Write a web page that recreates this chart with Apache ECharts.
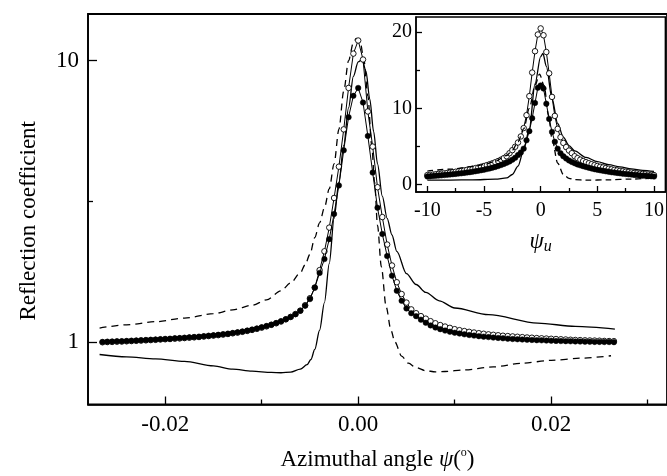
<!DOCTYPE html>
<html><head><meta charset="utf-8">
<script src="https://cdn.jsdelivr.net/npm/echarts@6/dist/echarts.min.js"></script>
<style>html,body{margin:0;padding:0;background:#fff}#c{width:667px;height:476px}</style>
</head><body><div id="c"></div>
<script>
// ---------- main chart data (azimuthal angle in degrees, reflection coefficient) ----------
const mainAngle = [-0.0265,-0.026,-0.0255,-0.025,-0.0245,-0.024,-0.0235,-0.023,-0.0225,-0.022,-0.0215,-0.021,-0.0205,-0.02,-0.0195,-0.019,-0.0185,-0.018,-0.0175,-0.017,-0.0165,-0.016,-0.0155,-0.015,-0.0145,-0.014,-0.0135,-0.013,-0.0125,-0.012,-0.0115,-0.011,-0.0105,-0.01,-0.0095,-0.009,-0.0085,-0.008,-0.0075,-0.007,-0.0065,-0.006,-0.0055,-0.005,-0.0045,-0.004,-0.0035,-0.003,-0.0025,-0.002,-0.0015,-0.001,-0.0005,0,0.0005,0.001,0.0015,0.002,0.0025,0.003,0.0035,0.004,0.0045,0.005,0.0055,0.006,0.0065,0.007,0.0075,0.008,0.0085,0.009,0.0095,0.01,0.0105,0.011,0.0115,0.012,0.0125,0.013,0.0135,0.014,0.0145,0.015,0.0155,0.016,0.0165,0.017,0.0175,0.018,0.0185,0.019,0.0195,0.02,0.0205,0.021,0.0215,0.022,0.0225,0.023,0.0235,0.024,0.0245,0.025,0.0255,0.026,0.0265];
const mainOpen = [0.997,0.999,1.000,1.002,1.003,1.005,1.007,1.009,1.011,1.013,1.015,1.017,1.020,1.022,1.024,1.027,1.029,1.032,1.035,1.038,1.041,1.045,1.049,1.053,1.057,1.062,1.067,1.073,1.079,1.086,1.094,1.103,1.113,1.124,1.136,1.150,1.165,1.182,1.203,1.227,1.256,1.292,1.35,1.43,1.56,1.80,2.10,2.55,3.25,4.2,5.7,8.0,10.6,
  11.8,
  10.1,6.6,4.95,3.55,2.78,2.22,1.87,1.63,1.48,1.38,1.305,1.265,1.235,1.21,1.185,1.165,1.148,1.134,1.122,1.110,1.101,1.093,1.086,1.080,1.074,1.069,1.064,1.060,1.056,1.052,1.049,1.046,1.043,1.040,1.037,1.035,1.032,1.030,1.028,1.026,1.024,1.022,1.020,1.018,1.016,1.015,1.013,1.012,1.011,1.010,1.008,1.007,1.006];
const mainFilled = [1.000,1.002,1.003,1.005,1.006,1.008,1.010,1.012,1.014,1.016,1.018,1.020,1.023,1.025,1.027,1.030,1.032,1.035,1.038,1.041,1.044,1.048,1.052,1.056,1.060,1.065,1.070,1.076,1.082,1.089,1.097,1.106,1.116,1.127,1.139,1.152,1.167,1.184,1.204,1.227,1.255,1.29,1.345,1.42,1.56,1.76,1.97,2.32,2.85,3.6,4.8,6.3,7.5,
  8.0,
  7.1,5.4,4.0,3.0,2.42,2.02,1.72,1.52,1.40,1.315,1.265,1.235,1.20,1.17,1.145,1.125,1.11,1.097,1.087,1.078,1.071,1.064,1.058,1.053,1.048,1.044,1.040,1.036,1.033,1.030,1.027,1.024,1.022,1.020,1.018,1.016,1.014,1.013,1.011,1.010,1.008,1.007,1.006,1.005,1.004,1.003,1.002,1.001,1.000,1.000,0.999,0.999,0.998];
const dashAngle = [-0.0268,-0.024,-0.021,-0.018,-0.015,-0.013,-0.011,-0.0095,-0.008,-0.007,-0.006,-0.0055,-0.005,-0.0045,-0.004,-0.0035,-0.003,-0.0025,-0.002,-0.0015,-0.001,-0.0005,-0.0002,0.0002,0.0006,0.001,0.0014,0.0017,0.002,0.0024,0.0029,0.0034,0.0038,0.0045,0.0052,0.006,0.007,0.008,0.009,0.011,0.014,0.017,0.02,0.023,0.0262];
const dashValue = [1.12,1.15,1.18,1.215,1.26,1.30,1.35,1.41,1.52,1.62,1.76,1.88,2.05,2.35,2.65,3.0,3.5,4.3,5.7,7.8,10.0,11.6,12.0,11.7,10.0,7.5,5.0,3.7,2.6,1.85,1.33,1.1,1.0,0.89,0.84,0.81,0.79,0.783,0.785,0.795,0.815,0.84,0.86,0.875,0.893];
const solidAngle = [-0.0268,-0.024,-0.021,-0.018,-0.015,-0.013,-0.011,-0.009,-0.008,-0.007,-0.006,-0.0053,-0.0049,-0.0045,-0.004,-0.0035,-0.003,-0.0025,-0.002,-0.0015,-0.001,-0.0005,0,0.0004,0.0008,0.0012,0.0016,0.002,0.0025,0.003,0.0035,0.004,0.005,0.006,0.007,0.0084,0.01,0.0135,0.0186,0.0225,0.0266];
const solidValue = [0.902,0.885,0.87,0.853,0.822,0.80,0.787,0.779,0.777,0.781,0.80,0.83,0.866,0.94,1.1,1.38,1.9,2.75,3.7,5.0,6.8,8.8,9.9,10.1,9.2,7.3,5.6,4.3,3.3,2.75,2.4,2.1,1.75,1.6,1.5,1.4,1.32,1.25,1.167,1.135,1.11];
const mainXTicks = [-0.02, 0, 0.02];
const mainXMinorTicks = [-0.01, 0.01, 0.03];
const mainXLabels = [-0.02, 0, 0.02];
const mainYTicks = [1, 10];
const mainYMinorTicks = [3.1623];
const mainYLabels = [1, 10];

// ---------- inset data (reduced angle psi_u) ----------
const insetAngle = [-10,-9.75,-9.5,-9.25,-9,-8.75,-8.5,-8.25,-8,-7.75,-7.5,-7.25,-7,-6.75,-6.5,-6.25,-6,-5.75,-5.5,-5.25,-5,-4.75,-4.5,-4.25,-4,-3.75,-3.5,-3.25,-3,-2.75,-2.5,-2.25,-2,-1.75,-1.5,-1.25,-1,-0.75,-0.5,-0.25,0,0.25,0.5,0.75,1,1.25,1.5,1.75,2,2.25,2.5,2.75,3,3.25,3.5,3.75,4,4.25,4.5,4.75,5,5.25,5.5,5.75,6,6.25,6.5,6.75,7,7.25,7.5,7.75,8,8.25,8.5,8.75,9,9.25,9.5,9.75,10];
const insetOpen = [1.22,1.26,1.29,1.33,1.37,1.41,1.45,1.5,1.55,1.6,1.66,1.72,1.78,1.84,1.91,1.98,2.06,2.14,2.23,2.32,2.42,2.53,2.65,2.78,2.92,3.07,3.25,3.45,3.7,4.1,4.5,4.95,5.5,6.3,7.4,9.1,11.6,14.7,17.5,19.7,
  20.5,
  19.6,17.4,14.6,11.5,9.0,7.3,6.2,5.45,4.9,4.45,4.1,3.7,3.45,3.25,3.07,2.92,2.78,2.65,2.53,2.42,2.32,2.23,2.14,2.06,1.98,1.91,1.84,1.78,1.72,1.66,1.6,1.55,1.5,1.45,1.41,1.37,1.33,1.29,1.26,1.22];
const insetFilled = [1.04,1.07,1.1,1.13,1.16,1.19,1.23,1.26,1.3,1.34,1.38,1.42,1.46,1.51,1.56,1.61,1.67,1.73,1.79,1.86,1.93,2.01,2.1,2.2,2.3,2.41,2.54,2.68,2.84,3.02,3.25,3.5,3.85,4.2,4.7,5.8,7.0,8.7,10.7,12.7,
  13.0,
  12.6,10.6,8.6,6.9,5.6,4.7,4.1,3.7,3.4,3.15,2.95,2.78,2.63,2.5,2.39,2.28,2.18,2.09,2.0,1.92,1.85,1.78,1.72,1.66,1.6,1.55,1.5,1.45,1.41,1.37,1.33,1.29,1.25,1.22,1.18,1.15,1.12,1.09,1.06,1.03];
const insetDashAngle = [-10,-8,-6,-5,-4,-3,-2.5,-2,-1.5,-1,-0.5,-0.1,0.3,0.7,1,1.5,2,2.5,3,4,6,8,10];
const insetDashValue = [1.75,2.0,2.35,2.6,3.05,3.8,4.5,5.6,7.3,10.0,13.0,14.5,13.0,9.0,6.0,2.8,1.3,0.8,0.62,0.55,0.6,0.7,0.85];
const insetSolidAngle = [-10,-8,-6,-4,-3,-2.5,-2,-1.5,-1,-0.5,0,0.2,0.5,1,1.5,2,2.5,3,4,5,6,7,8,9,10];
const insetSolidValue = [0.55,0.57,0.6,0.68,0.85,1.3,2.4,4.5,7.3,13.2,16.8,17.2,15.5,11.3,8.0,6.2,5.1,4.4,3.55,3.0,2.6,2.3,2.05,1.85,1.7];
const insetXTicks = [-10, -5, 0, 5, 10];
const insetXMinorTicks = [-7.5, -2.5, 2.5, 7.5];
const insetXLabels = [-10, -5, 0, 5, 10];
const insetYTicks = [0, 10, 20];
const insetYMinorTicks = [5, 15];
const insetYLabels = [0, 10, 20];

const FONT = '"Liberation Serif", "Times New Roman", serif';
const BLACK = '#000';
function pairs(xs, ys) { return xs.map((x, i) => [x, ys[i]]); }

const chart = echarts.init(document.getElementById('c'), null, {renderer: 'canvas'});

function tickAxis(base, ticks, len, withLine) {
  return Object.assign({
    axisLine: {show: withLine, onZero: false, lineStyle: {color: BLACK, width: 1.5}},
    axisTick: {show: true, inside: true, length: len, customValues: ticks, lineStyle: {color: BLACK, width: 1.3}},
    splitLine: {show: false},
    minorTick: {show: false}
  }, base);
}

const option = {
  animation: false,
  backgroundColor: '#fff',
  grid: [
    {left: 88, top: 14, right: -9, bottom: 69, show: true, borderColor: BLACK, borderWidth: 1.8, backgroundColor: 'transparent'},
    {left: 416, top: 17, right: -7, bottom: 284, show: true, borderColor: BLACK, borderWidth: 1.4, backgroundColor: '#fff'}
  ],
  xAxis: [
    tickAxis({gridIndex: 0, type: 'value', min: -0.028, max: 0.032, position: 'bottom',
      axisLabel: {customValues: mainXLabels, formatter: v => v.toFixed(2), fontFamily: FONT, fontSize: 23, color: BLACK, margin: 9},
      name: '{n|Azimuthal angle }{i|ψ}{n|(}{s|o}{n|)}', nameLocation: 'middle', nameGap: 42,
      nameTextStyle: {rich: {
        n: {fontFamily: FONT, fontSize: 23, color: BLACK, lineHeight: 26},
        i: {fontFamily: FONT, fontSize: 23, fontStyle: 'italic', color: BLACK, lineHeight: 26},
        s: {fontFamily: FONT, fontSize: 12, color: BLACK, lineHeight: 14, verticalAlign: 'top'}
      }}
    }, mainXTicks, 8, true),
    tickAxis({gridIndex: 0, type: 'value', min: -0.028, max: 0.032, position: 'bottom', axisLabel: {show: false}}, mainXMinorTicks, 5, false),
    tickAxis({gridIndex: 1, type: 'value', min: -11, max: 11, position: 'bottom',
      axisLabel: {customValues: insetXLabels, fontFamily: FONT, fontSize: 20, color: BLACK, margin: 9},
      name: '{i|ψ}{u|u}', nameLocation: 'middle', nameGap: 23,
      nameTextStyle: {rich: {
        i: {fontFamily: FONT, fontSize: 23, fontStyle: 'italic', color: BLACK, lineHeight: 24, verticalAlign: 'top'},
        u: {fontFamily: FONT, fontSize: 16, fontStyle: 'italic', color: BLACK, lineHeight: 16, padding: [17, 0, 0, 0], verticalAlign: 'bottom'}
      }}
    }, insetXTicks, 6, true),
    tickAxis({gridIndex: 1, type: 'value', min: -11, max: 11, position: 'bottom', axisLabel: {show: false}}, insetXMinorTicks, 4, false)
  ],
  yAxis: [
    tickAxis({gridIndex: 0, type: 'log', logBase: 10, min: 0.599, max: 14.66, position: 'left',
      axisLabel: {customValues: mainYLabels, formatter: v => String(Math.round(v)), fontFamily: FONT, fontSize: 23, color: BLACK, margin: 9},
      name: 'Reflection coefficient', nameLocation: 'middle', nameGap: 48,
      nameTextStyle: {fontFamily: FONT, fontSize: 23, color: BLACK, padding: [0, 23, 0, 0]}
    }, mainYTicks, 9, true),
    tickAxis({gridIndex: 0, type: 'log', logBase: 10, min: 0.599, max: 14.66, position: 'left', axisLabel: {show: false}}, mainYMinorTicks, 5, false),
    tickAxis({gridIndex: 1, type: 'value', min: -1, max: 22, position: 'left',
      axisLabel: {customValues: insetYLabels, fontFamily: FONT, fontSize: 20, color: BLACK, margin: 4}
    }, insetYTicks, 6, true),
    tickAxis({gridIndex: 1, type: 'value', min: -1, max: 22, position: 'left', axisLabel: {show: false}}, insetYMinorTicks, 4, false)
  ],
  series: [
    {name: 'theory dashed', type: 'line', xAxisIndex: 0, yAxisIndex: 0, data: pairs(dashAngle, dashValue),
      showSymbol: false, smooth: 0.3, smoothMonotone: 'x', lineStyle: {color: BLACK, width: 1.3, type: [7, 5]}, z: 2},
    {name: 'theory solid', type: 'line', xAxisIndex: 0, yAxisIndex: 0, data: pairs(solidAngle, solidValue),
      showSymbol: false, smooth: 0.3, smoothMonotone: 'x', lineStyle: {color: BLACK, width: 1.3}, z: 2},
    {name: 'open', type: 'line', xAxisIndex: 0, yAxisIndex: 0, data: pairs(mainAngle, mainOpen),
      symbol: 'circle', symbolSize: 5.5, showSymbol: true, showAllSymbol: true,
      itemStyle: {color: '#fff', borderColor: BLACK, borderWidth: 0.9}, lineStyle: {color: BLACK, width: 1}, z: 3},
    {name: 'filled', type: 'line', xAxisIndex: 0, yAxisIndex: 0, data: pairs(mainAngle, mainFilled),
      symbol: 'circle', symbolSize: 5.5, showSymbol: true, showAllSymbol: true,
      itemStyle: {color: BLACK, borderColor: BLACK, borderWidth: 0.5}, lineStyle: {color: BLACK, width: 1}, z: 4},

    {name: 'inset solid', type: 'line', xAxisIndex: 2, yAxisIndex: 2, data: pairs(insetSolidAngle, insetSolidValue),
      showSymbol: false, smooth: 0.3, smoothMonotone: 'x', lineStyle: {color: BLACK, width: 1.3}, z: 6},
    {name: 'inset open', type: 'line', xAxisIndex: 2, yAxisIndex: 2, data: pairs(insetAngle, insetOpen),
      symbol: 'circle', symbolSize: 5.5, showSymbol: true, showAllSymbol: true,
      itemStyle: {color: '#fff', borderColor: BLACK, borderWidth: 0.9}, lineStyle: {color: BLACK, width: 1}, z: 7},
    {name: 'inset filled', type: 'line', xAxisIndex: 2, yAxisIndex: 2, data: pairs(insetAngle, insetFilled),
      symbol: 'circle', symbolSize: 5.5, showSymbol: true, showAllSymbol: true,
      itemStyle: {color: BLACK, borderColor: BLACK, borderWidth: 0.5}, lineStyle: {color: BLACK, width: 1}, z: 8},
    {name: 'inset dashed', type: 'line', xAxisIndex: 2, yAxisIndex: 2, data: pairs(insetDashAngle, insetDashValue),
      showSymbol: false, smooth: 0.3, smoothMonotone: 'x', lineStyle: {color: BLACK, width: 1.3, type: [6, 4]}, z: 9}
  ]
};
chart.setOption(option);
</script>
</body></html>
